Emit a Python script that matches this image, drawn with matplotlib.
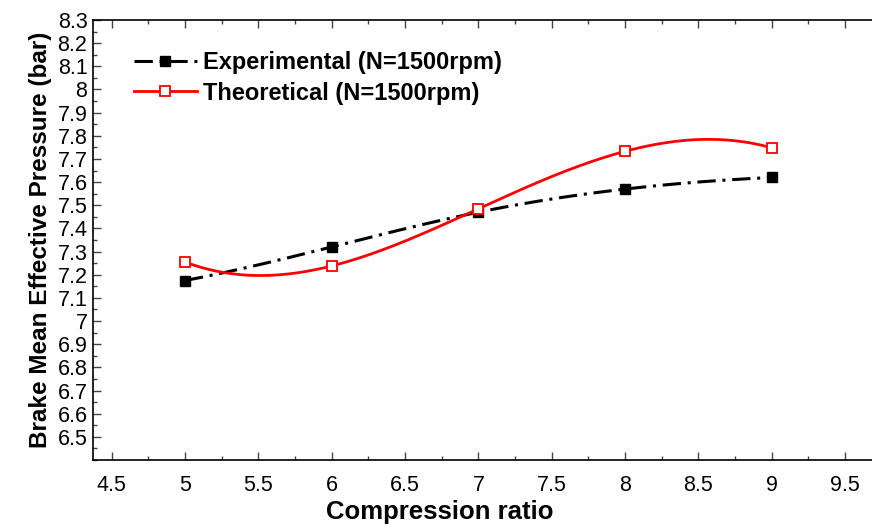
import numpy as np
import matplotlib.pyplot as plt
from matplotlib.ticker import MultipleLocator

# ---- data ----
ratio = [5, 6, 7, 8, 9]
bmep_exp = [7.175, 7.32, 7.47, 7.57, 7.62]
bmep_theo = [7.255, 7.238, 7.485, 7.733, 7.748]


def spline_curve(x, y, n=200):
    # not-a-knot cubic spline, only to draw a smooth line through the points
    x = np.asarray(x, float)
    y = np.asarray(y, float)
    k = len(x)
    h = np.diff(x)
    A = np.zeros((k, k))
    b = np.zeros(k)
    A[0, 0], A[0, 1], A[0, 2] = h[1], -(h[0] + h[1]), h[0]
    A[-1, -3], A[-1, -2], A[-1, -1] = h[-1], -(h[-2] + h[-1]), h[-2]
    for i in range(1, k - 1):
        A[i, i - 1] = h[i - 1]
        A[i, i] = 2 * (h[i - 1] + h[i])
        A[i, i + 1] = h[i]
        b[i] = 3 * ((y[i + 1] - y[i]) / h[i] - (y[i] - y[i - 1]) / h[i - 1])
    c = np.linalg.solve(A, b)
    xs = np.linspace(x[0], x[-1], n)
    ys = np.empty_like(xs)
    for j, xv in enumerate(xs):
        i = min(np.searchsorted(x, xv, side="right") - 1, k - 2)
        d = xv - x[i]
        bi = (y[i + 1] - y[i]) / h[i] - h[i] * (2 * c[i] + c[i + 1]) / 3
        di = (c[i + 1] - c[i]) / (3 * h[i])
        ys[j] = y[i] + bi * d + c[i] * d ** 2 + di * d ** 3
    return xs, ys


plt.rcParams['font.family'] = ['Liberation Sans', 'DejaVu Sans']

fig = plt.figure(figsize=(8.72, 5.25), dpi=100)
ax = fig.add_axes([93 / 872, 65 / 525, 779 / 872, 440 / 525])

dashdot = (0, (6, 2.2, 1, 2.2))
xs, ys = spline_curve(ratio, bmep_exp)
ax.plot(xs, ys, color="black", lw=2.2, ls=dashdot)
ax.plot(ratio, bmep_exp, ls="none", marker="s", ms=7.5, color="black")
ax.plot([], [], color="black", lw=2.2, ls=dashdot, marker="s", ms=7.5,
        label="Experimental (N=1500rpm)")

xs, ys = spline_curve(ratio, bmep_theo)
ax.plot(xs, ys, color="red", lw=2)
ax.plot(ratio, bmep_theo, ls="none", marker="s", ms=7.5, mfc="white", mec="red", mew=1.3)
ax.plot([], [], color="red", lw=2, marker="s", ms=7.5, mfc="white", mec="red", mew=1.3,
        label="Theoretical (N=1500rpm)")

ax.set_xlim(4.373, 9.683)
ax.set_ylim(6.4, 8.3)
ax.xaxis.set_minor_locator(MultipleLocator(0.25))
ax.yaxis.set_minor_locator(MultipleLocator(0.05))
yt = np.round(np.arange(6.5, 8.31, 0.1), 1)
ax.set_yticks(yt)
ax.set_yticklabels([f"{v:g}" for v in yt])
xt = np.arange(4.5, 9.51, 0.5)
ax.set_xticks(xt)
ax.set_xticklabels([f"{v:g}" for v in xt])

ax.tick_params(which="both", direction="in", top=True, right=False,
               width=1, color="#444444")
ax.tick_params(which="major", length=6)
ax.tick_params(which="minor", length=3)
ax.tick_params(axis="x", pad=11, labelsize=15.5)
ax.tick_params(axis="y", pad=4, labelsize=15.5)
ax.spines["right"].set_visible(False)
for s in ["left", "top", "bottom"]:
    ax.spines[s].set_linewidth(1.2)

# x label sits left of the axes centre in the original (axes cropped at right)
fig.text(440 / 872, 6 / 525, "Compression ratio", fontsize=18.5, fontweight="bold",
         ha="center", va="baseline")
ax.set_ylabel("Brake Mean Effective Pressure (bar)", fontsize=17.5, fontweight="bold",
              labelpad=4)

ax.legend(loc="upper left", bbox_to_anchor=(0.04, 0.95), frameon=False,
          prop={"weight": "bold", "size": 17}, handlelength=2.7,
          handletextpad=0.25, labelspacing=0.3, borderaxespad=0)

fig.savefig("out.png", dpi=100)
